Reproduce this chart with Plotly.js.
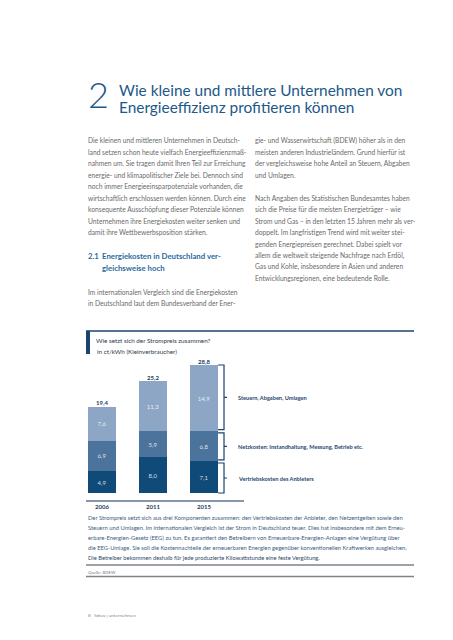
<!DOCTYPE html>
<html><head><meta charset="utf-8">
<script src="https://cdn.plot.ly/plotly-3.0.1.min.js"></script>
<style>html,body{margin:0;padding:0;background:#fff;}#chart{width:453px;height:640px;}</style>
</head><body><div id="chart"></div>
<script>
// ---- data ----
const years = ["2006", "2011", "2015"];
const vertrieb = [4.9, 8.0, 7.1];
const netz = [6.9, 5.9, 6.8];
const steuern = [7.6, 11.3, 14.9];
const totals = [19.4, 25.2, 28.8];
const seriesNames = ["Vertriebskosten des Anbieters", "Netzkosten: Instandhaltung, Messung, Betrieb etc.", "Steuern, Abgaben, Umlagen"];

const headingLines = ["Wie kleine und mittlere Unternehmen von", "Energieeffizienz profitieren können"];
const leftCol1 = [
 "Die kleinen und mittleren Unternehmen in Deutsch-",
 "land setzen schon heute vielfach Energieeffizienzmaß-",
 "nahmen um. Sie tragen damit Ihren Teil zur Erreichung",
 "energie- und klimapolitischer Ziele bei. Dennoch sind",
 "noch immer Energieeinsparpotenziale vorhanden, die",
 "wirtschaftlich erschlossen werden können. Durch eine",
 "konsequente Ausschöpfung dieser Potenziale können",
 "Unternehmen ihre Energiekosten weiter senken und",
 "damit ihre Wettbewerbsposition stärken."];
const subHeading = ["2.1", "Energiekosten in Deutschland ver-", "gleichsweise hoch"];
const leftCol2 = [
 "Im internationalen Vergleich sind die Energiekosten",
 "in Deutschland laut dem Bundesverband der Ener-"];
const rightCol1 = [
 "gie- und Wasserwirtschaft (BDEW) höher als in den",
 "meisten anderen Industrieländern. Grund hierfür ist",
 "der vergleichsweise hohe Anteil an Steuern, Abgaben",
 "und Umlagen."];
const rightCol2 = [
 "Nach Angaben des Statistischen Bundesamtes haben",
 "sich die Preise für die meisten Energieträger – wie",
 "Strom und Gas – in den letzten 15 Jahren mehr als ver-",
 "doppelt. Im langfristigen Trend wird mit weiter stei-",
 "genden Energiepreisen gerechnet. Dabei spielt vor",
 "allem die weltweit steigende Nachfrage nach Erdöl,",
 "Gas und Kohle, insbesondere in Asien und anderen",
 "Entwicklungsregionen, eine bedeutende Rolle."];
const chartTitle = "Wie setzt sich der Strompreis zusammen?";
const chartSubtitle = "in ct/kWh (Kleinverbraucher)";
const caption = [
 "Der Strompreis setzt sich aus drei Komponenten zusammen: den Vertriebskosten der Anbieter, den Netzentgelten sowie den",
 "Steuern und Umlagen. Im internationalen Vergleich ist der Strom in Deutschland teuer. Dies hat insbesondere mit dem Erneu-",
 "erbare-Energien-Gesetz (EEG) zu tun. Es garantiert den Betreibern von Erneuerbare-Energien-Anlagen eine Vergütung über",
 "die EEG-Umlage. Sie soll die Kostennachteile der erneuerbaren Energien gegenüber konventionellen Kraftwerken ausgleichen.",
 "Die Betreiber bekommen deshalb für jede produzierte Kilowattstunde eine feste Vergütung."];
const source = "Quelle: BDEW";
const footer = "8   fokus | unternehmen";

// ---- layout helpers ----
const W = 453, H = 640;
const px = x => x / W;
const py = y => 1 - y / H;
const FONT = "Lato, 'Open Sans', sans-serif";
const NAVY = "#1b436d";
const cDark = "#0f4a78", cMid = "#4b739c", cLight = "#8ea6c5";

const ann = [];
function txt(x, y, text, size, color, extra) {
  ann.push(Object.assign({xref: "paper", yref: "paper", x: px(x), y: py(y), text: text,
    showarrow: false, xanchor: "left", yanchor: "middle",
    font: {family: FONT, size: size, color: color}}, extra || {}));
}

// heading
txt(86, 94, "2", 36, "#1d5a8c", {font: {family: FONT, size: 36, color: "#1d5a8c", weight: 300}});
headingLines.forEach((t, i) => txt(117, 90 + i * 16.7, t, 15.4, "#1d5888"));

// body text
const LS = 11.55, BODY = "#6a6a6a", BS = 6.7;
leftCol1.forEach((t, i) => txt(86, 140 + i * LS, t, BS, BODY));
const SH = {family: FONT, size: 7.8, color: "#2a6aa0", weight: 700};
txt(86, 256.3, subHeading[0], 7.8, "#2a6aa0", {font: SH});
txt(100, 256.3, subHeading[1], 7.8, "#2a6aa0", {font: SH});
txt(100, 268, subHeading[2], 7.8, "#2a6aa0", {font: SH});
leftCol2.forEach((t, i) => txt(86, 291.7 + i * LS, t, BS, BODY));
rightCol1.forEach((t, i) => txt(253, 140 + i * LS, t, BS, BODY));
rightCol2.forEach((t, i) => txt(253, 197.5 + i * LS, t, BS, BODY));

// chart box title
txt(94, 340.5, chartTitle, 6.3, "#2c3a4c");
txt(95, 351, chartSubtitle, 6.3, "#2c3a4c");

// caption
caption.forEach((t, i) => txt(86, 517.5 + i * 10, t, 5.8, i === 4 ? "#2e4968" : "#3e5c80"));
txt(86, 572, source, 4.3, "#777");
txt(86, 615, footer, 4.6, "#8a8a8a");

// brackets + labels (data coords, from the last year's stack)
const series = [vertrieb, netz, steuern];
const last = years.length - 1;
let base = 0;
const shapes = [];
series.forEach((s, k) => {
  const lo = base, hi = base + s[last];
  const g = 0.35;
  const a = k === 0 ? lo : lo + g;
  const b = k === series.length - 1 ? hi : hi - g;
  const mid = (a + b) / 2;
  const xv = last + 0.392, xe = last + 0.275, xm = last + 0.451;
  shapes.push({type: "path", xref: "x", yref: "y",
    path: `M ${xe},${a} L ${xv},${a} L ${xv},${b} L ${xe},${b} M ${xv},${mid} L ${xm},${mid}`,
    line: {color: NAVY, width: 1.2}});
  ann.push({xref: "x", yref: "y", x: last + 0.627, y: mid, text: seriesNames[k], showarrow: false,
    xanchor: "left", yanchor: "middle", font: {family: FONT, size: 5.6, color: "#27476e", weight: 700}});
  base = hi;
});

// box decorations
shapes.push({type: "line", xref: "paper", yref: "paper", x0: px(86), x1: px(414), y0: py(331), y1: py(331), line: {color: NAVY, width: 1.3}});
shapes.push({type: "rect", xref: "paper", yref: "paper", x0: px(86), x1: px(90), y0: py(331), y1: py(354), fillcolor: NAVY, line: {width: 0}});
shapes.push({type: "line", xref: "paper", yref: "paper", x0: px(86), x1: px(414), y0: py(565), y1: py(565), line: {color: "#7d838b", width: 1.6}});
shapes.push({type: "line", xref: "paper", yref: "paper", x0: px(86), x1: px(414), y0: py(576.5), y1: py(576.5), line: {color: "#7d838b", width: 1.6}});

const inside = {family: FONT, size: 6, color: "rgba(255,255,255,0.82)"};
const mk = (y, color, name) => ({type: "bar", x: years, y: y, name: name, marker: {color: color, line: {width: 0}},
  texttemplate: "%{y:.1f}", textposition: "inside", insidetextanchor: "middle", textangle: 0,
  constraintext: "none", textfont: inside, hoverinfo: "skip"});

const data = [
  mk(vertrieb, cDark, seriesNames[0]),
  mk(netz, cMid, seriesNames[1]),
  mk(steuern, cLight, seriesNames[2]),
  {type: "scatter", mode: "text", x: years, y: totals, texttemplate: "%{y:.1f}", textposition: "top center",
   cliponaxis: false, textfont: {family: FONT, size: 6, color: "#1f3d63", weight: 700}, hoverinfo: "skip"}
];

const layout = {
  width: W, height: H, margin: {l: 0, r: 0, t: 0, b: 0, pad: 0},
  paper_bgcolor: "#fff", plot_bgcolor: "rgba(0,0,0,0)",
  showlegend: false, barmode: "stack", bargap: 0.46, separators: ",.",
  font: {family: FONT},
  xaxis: {type: "category", domain: [px(86), px(244)], range: [-0.3137, 2.784],
    showline: true, linecolor: "#8896a9", linewidth: 2, showgrid: false, zeroline: false, ticks: "",
    tickfont: {family: FONT, size: 6, color: "#1f3d63", weight: 700}, fixedrange: true},
  yaxis: {domain: [py(500), py(340)], range: [-1.575, 34.43], visible: false, fixedrange: true},
  annotations: ann, shapes: shapes, hovermode: false
};
Plotly.newPlot("chart", data, layout, {displayModeBar: false, staticPlot: true});
</script></body></html>
